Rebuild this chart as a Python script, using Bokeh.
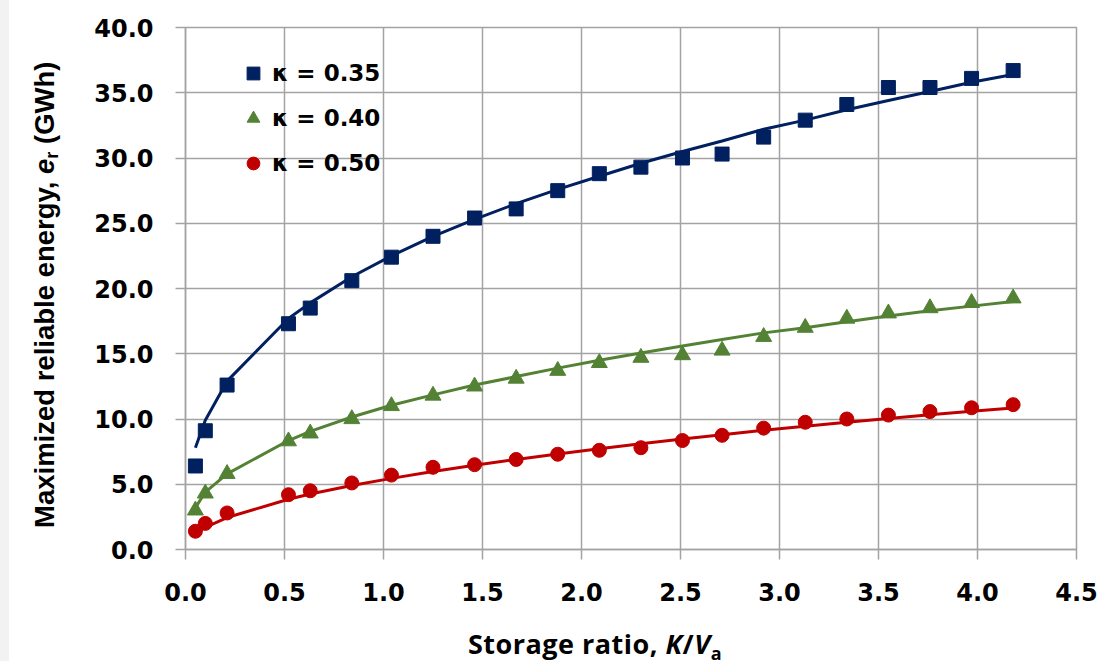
from bokeh.plotting import figure
from bokeh.models import (ColumnDataSource, FixedTicker, NumeralTickFormatter,
                          Legend, LegendItem, Range1d, Div)
from bokeh.layouts import row, column
from bokeh.embed import file_html
from bokeh.resources import INLINE

# ---------------- data ----------------
storage_ratio = [0.05, 0.10, 0.21, 0.52, 0.63, 0.84, 1.04, 1.25, 1.46, 1.67, 1.88,
                 2.09, 2.30, 2.51, 2.71, 2.92, 3.13, 3.34, 3.55, 3.76, 3.97, 4.18]

energy_k035 = [6.4, 9.1, 12.6, 17.3, 18.5, 20.6, 22.4, 24.0, 25.4, 26.1, 27.5,
               28.8, 29.3, 30.0, 30.3, 31.6, 32.9, 34.1, 35.4, 35.4, 36.1, 36.7]
trend_k035 = [7.8, 9.9, 12.9, 17.7, 18.9, 20.9, 22.5, 24.0, 25.3, 26.5, 27.6,
              28.6, 29.6, 30.5, 31.3, 32.2, 32.9, 33.7, 34.4, 35.1, 35.8, 36.4]

energy_k040 = [3.0, 4.3, 5.8, 8.3, 8.9, 10.0, 11.0, 11.8, 12.5, 13.1, 13.7,
               14.3, 14.7, 14.9, 15.25, 16.3, 17.0, 17.7, 18.1, 18.5, 18.9, 19.25]
trend_k040 = [3.2, 4.4, 5.8, 8.35, 9.05, 10.15, 11.05, 11.85, 12.6, 13.25, 13.9,
              14.5, 15.05, 15.6, 16.1, 16.6, 17.0, 17.45, 17.9, 18.3, 18.65, 19.0]

energy_k050 = [1.4, 2.0, 2.8, 4.2, 4.5, 5.1, 5.7, 6.3, 6.5, 6.9, 7.3,
               7.6, 7.8, 8.35, 8.75, 9.3, 9.75, 10.0, 10.3, 10.57, 10.86, 11.1]
trend_k050 = [1.25, 1.7, 2.45, 3.85, 4.25, 4.9, 5.45, 5.97, 6.45, 6.9, 7.32,
              7.72, 8.1, 8.47, 8.8, 9.14, 9.45, 9.75, 10.04, 10.32, 10.6, 10.85]

series_labels = ["κ = 0.35", "κ = 0.40", "κ = 0.50"]
x_tick_values = [0.0, 0.5, 1.0, 1.5, 2.0, 2.5, 3.0, 3.5, 4.0, 4.5]
y_tick_values = [0, 5, 10, 15, 20, 25, 30, 35, 40]

x_title_html = "Storage ratio, <i>K</i>/<i>V</i><sub style='font-size:18px;font-style:normal'>a</sub>"
y_title_html = "Maximized reliable energy, <i>e</i><sub style='font-size:18px;font-style:normal'>r</sub> (GWh)"

# ---------------- styles ----------------
NAVY = "#002060"
GREEN = "#548235"
RED = "#c00000"
GRID = "#a3a3a3"
TICK_FONT = "DejaVu Sans"

p = figure(width=1032, height=610,
           x_range=Range1d(0, 4.5), y_range=Range1d(0, 40),
           output_backend="svg", toolbar_location=None,
           min_border_left=116, min_border_right=25,
           min_border_top=27, min_border_bottom=61, margin=0)
p.background_fill_color = "white"
p.border_fill_color = "white"
p.outline_line_color = GRID
p.outline_line_width = 1.5

for ax, ticks in ((p.xaxis, x_tick_values), (p.yaxis, y_tick_values)):
    ax.ticker = FixedTicker(ticks=ticks)
    ax.formatter = NumeralTickFormatter(format="0.0")
    ax.major_label_text_font = TICK_FONT
    ax.major_label_text_font_size = "24px"
    ax.major_label_text_font_style = "bold"
    ax.major_label_text_color = "black"
    ax.major_tick_out = 10
    ax.major_tick_in = 0
    ax.minor_tick_line_color = None
    ax.axis_line_color = GRID
    ax.axis_line_width = 1.5
    ax.major_tick_line_color = GRID
    ax.major_tick_line_width = 1.5
p.xaxis.major_label_standoff = 23
p.yaxis.major_label_standoff = 22

p.xgrid.ticker = FixedTicker(ticks=x_tick_values)
p.ygrid.ticker = FixedTicker(ticks=y_tick_values)
for g in (p.xgrid, p.ygrid):
    g.grid_line_color = GRID
    g.grid_line_width = 1.5

src = ColumnDataSource(dict(x=storage_ratio,
                            k035=energy_k035, t035=trend_k035,
                            k040=energy_k040, t040=trend_k040,
                            k050=energy_k050, t050=trend_k050))

p.line("x", "t035", source=src, line_color=NAVY, line_width=3)
p.line("x", "t040", source=src, line_color=GREEN, line_width=3)
p.line("x", "t050", source=src, line_color=RED, line_width=3)

r1 = p.scatter("x", "k035", source=src, marker="square", size=14,
               fill_color=NAVY, line_color=NAVY)
r2 = p.scatter("x", "k040", source=src, marker="triangle", size=16,
               fill_color=GREEN, line_color=GREEN)
r3 = p.scatter("x", "k050", source=src, marker="circle", size=14,
               fill_color=RED, line_color=RED)

legend = Legend(items=[LegendItem(label=series_labels[0], renderers=[r1]),
                       LegendItem(label=series_labels[1], renderers=[r2]),
                       LegendItem(label=series_labels[2], renderers=[r3])],
                location=(52, 370), orientation="vertical",
                padding=0, margin=0, spacing=13,
                glyph_width=32, glyph_height=32, label_height=32,
                label_standoff=3,
                label_text_font=TICK_FONT, label_text_font_size="23px",
                label_text_font_style="bold", label_text_color="black",
                border_line_color=None, background_fill_alpha=0)
p.add_layout(legend)

# ---- left strip with rotated y-axis title ----
left_div = Div(
    width=69, height=661, margin=0,
    styles={"background": "linear-gradient(to right, #f2f2f2 9px, #ffffff 9px)"},
    text=("<div style=\"margin-left:30px; margin-top:48px; width:30px; height:480px;"
          " writing-mode:vertical-rl; transform:rotate(180deg); white-space:nowrap;"
          " font-family:'Liberation Sans'; font-weight:bold; font-size:27.5px;"
          " line-height:30px; color:#000;\">" + y_title_html + "</div>"))

# ---- x-axis title below the figure ----
x_div = Div(
    width=1032, height=51, margin=0,
    styles={"background": "#ffffff", "overflow": "hidden"},
    text=("<div style=\"position:relative; left:10px; width:1032px; text-align:center;"
          " padding-top:16px; white-space:nowrap; font-family:'Open Sans';"
          " font-weight:bold; font-size:27px; letter-spacing:0.5px; line-height:36px;"
          " color:#000;\">" + x_title_html + "</div>"))

layout = row(left_div, column(p, x_div, spacing=0, margin=0), spacing=0, margin=0)

open("out.html", "w").write(file_html(layout, INLINE))
